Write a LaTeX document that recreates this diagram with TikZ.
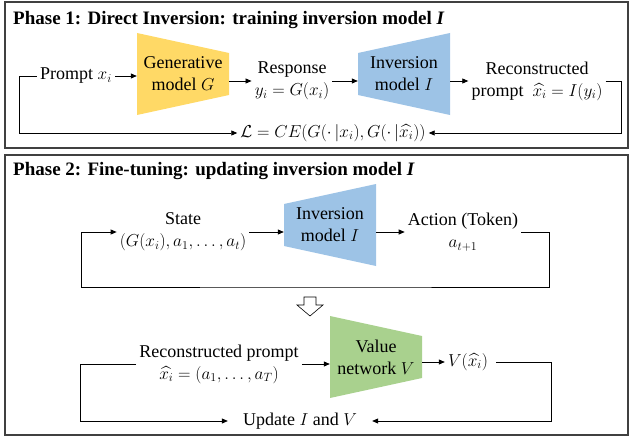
\documentclass[tikz,border=0pt]{standalone}
\usepackage{fontspec}
\setmainfont{LiberationSerif}[Extension=.ttf, UprightFont=*-Regular, BoldFont=*-Bold, ItalicFont=*-Italic, BoldItalicFont=*-BoldItalic]
\usepackage{amsmath}
\usepackage{amssymb}
\usepackage{tikz}
\usepackage{xcolor}
\usetikzlibrary{arrows.meta}
\definecolor{genyellow}{HTML}{FFD966}
\definecolor{invblue}{HTML}{9DC3E6}
\definecolor{valgreen}{HTML}{A9D18E}
\definecolor{framegray}{HTML}{404040}

\tikzset{
  txt/.style={align=center, font=\fontsize{18}{22}\selectfont\rmfamily, inner sep=3pt},
  phasetitle/.style={anchor=base west, font=\fontsize{19}{22}\selectfont\rmfamily\bfseries, inner sep=0pt},
  arr/.style={line width=0.8pt, -{Triangle[length=6pt,width=5pt]}},
  frame/.style={line width=1.3pt, draw=framegray},
  model/.style={txt, minimum width=92pt, minimum height=82pt, inner sep=0pt},
  wideleft/.style={model, path picture={\fill[#1] (path picture bounding box.north west) -- ([yshift=-20pt]path picture bounding box.north east) -- ([yshift=20pt]path picture bounding box.south east) -- (path picture bounding box.south west) -- cycle;}},
  wideright/.style={model, path picture={\fill[#1] ([yshift=-20pt]path picture bounding box.north west) -- (path picture bounding box.north east) -- (path picture bounding box.south east) -- ([yshift=20pt]path picture bounding box.south west) -- cycle;}},
}

\begin{document}
\begin{tikzpicture}[x=1pt, y=-1pt]
        \useasboundingbox (0,0) rectangle (629,436);
        % phase 1
        \draw[frame] (5,2) rectangle (628,148);
        \node[phasetitle] (title1) at (13,25) {Phase 1: Direct Inversion: training inversion model \textit{I}};
        \node[txt] (prompt) at (76,76) {Prompt $x_i$};
        \node[wideleft=genyellow] (gen) at (183,74) {Generative\\model $G$};
        \node[txt] (resp) at (292,81) {Response\\$y_i = G(x_i)$};
        \node[wideright=invblue] (inv) at (404,74) {Inversion\\model $I$};
        \node[txt] (recon) at (537,81) {Reconstructed\\prompt\ \ $\widehat{x_i} = I(y_i)$};
        \node[txt] (loss) at (333,133) {$\mathcal{L} = CE(G(\cdot\,|x_i), G(\cdot\,|\widehat{x_i}))$};
        \draw[arr] (prompt.east) -- (gen.west |- prompt.east);
        \draw[arr] (gen.east |- resp.west) -- (resp.west);
        \draw[arr] (resp.east) -- (inv.west |- resp.east);
        \draw[arr] (inv.east |- recon.west) -- (recon.west);
        \draw[arr] (prompt.west) -- ++(-18,0) |- (loss.west);
        \draw[arr] (recon.east) -- ++(16,0) |- (loss.east);
        % phase 2
        \draw[frame] (5,155) rectangle (628,435);
        \node[phasetitle] (title2) at (13,175) {Phase 2: Fine-tuning: updating inversion model \textit{I}};
        \node[txt] (state) at (183,232) {State\\$(G(x_i), a_1, \ldots, a_t)$};
        \node[wideright=invblue] (inv2) at (330,225) {Inversion\\model $I$};
        \node[txt] (action) at (463,232) {Action (Token)\\$a_{t+1}$};
        \coordinate (bot2) at (316,287);
        \draw[arr] (state.east) -- (inv2.west |- state.east);
        \draw[arr] (inv2.east |- action.west) -- (action.west);
        \draw[arr] (action.east) -- ++(28,0) |- (bot2) -| ([xshift=-35pt]state.west) -- (state.west);
        \draw[line width=0.6pt] (304,297) -- (316,297) -- (316,305) -- (323,305) -- (310,316) -- (297,305) -- (304,305) -- cycle;
        \node[txt] (recp) at (219,364) {Reconstructed prompt\\$\widehat{x_i} = (a_1, \ldots, a_T)$};
        \node[wideleft=valgreen] (val) at (376,357) {Value\\network $V$};
        \node[txt] (vout) at (468,362) {$V(\widehat{x_i})$};
        \node[txt, inner xsep=15pt] (update) at (300,421) {Update $I$ and $V$};
        \draw[arr] (recp.east) -- (val.west |- recp.east);
        \draw[arr] (val.east |- vout.west) -- (vout.west);
        \draw[arr] (recp.west) -- ++(-56,0) |- (update.west);
        \draw[arr] ([xshift=5pt]vout.east) -- ++(55,0) |- (update.east);
    \end{tikzpicture}
\end{document}
